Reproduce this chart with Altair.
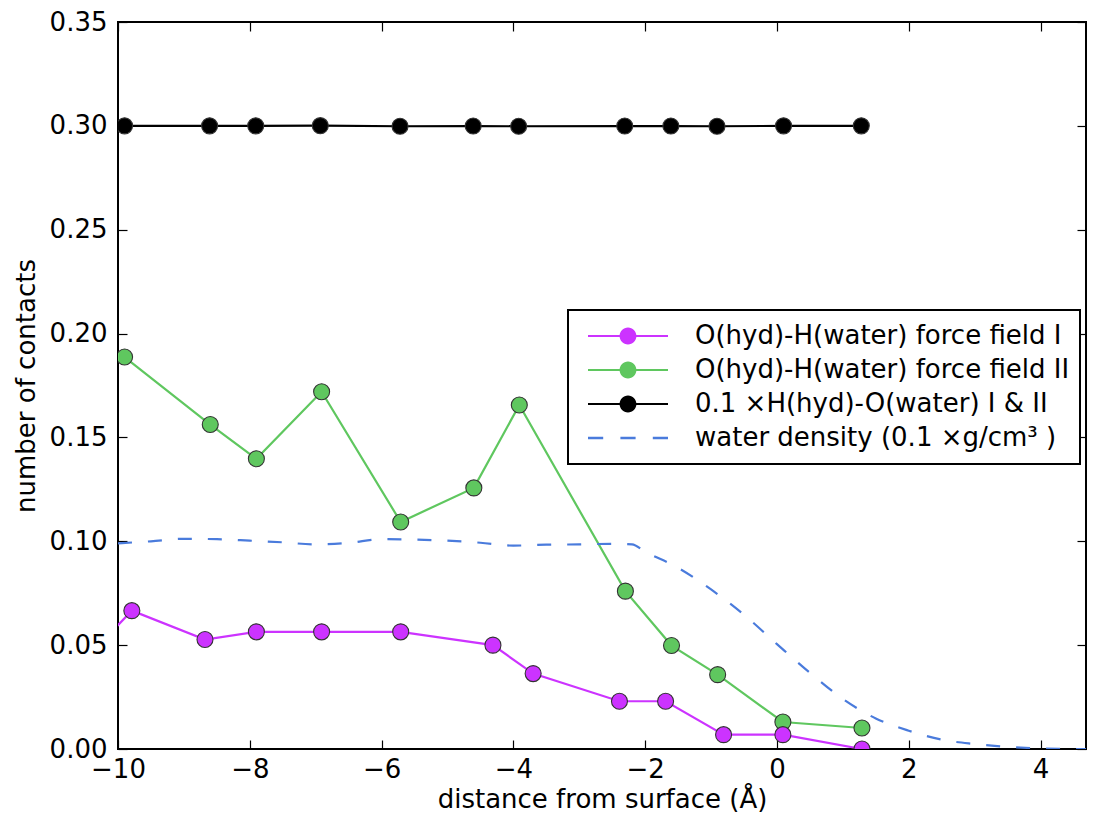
import altair as alt
import pandas as pd

FONT = "DejaVu Sans"

series = [
    "O(hyd)-H(water) force field I",
    "O(hyd)-H(water) force field II",
    "0.1 ×H(hyd)-O(water) I & II",
    "water density (0.1 ×g/cm³ )",
]
colors = ["#cc33ff", "#5fc75f", "#000000", "#4a7bdc"]

# force field I (first point lies just left of the visible range)
ff1_x = [-10.5, -9.79, -8.68, -7.90, -6.91, -5.71, -4.31, -3.70, -2.39, -1.69, -0.81, 0.09, 1.29]
ff1_y = [0.043, 0.0666, 0.0527, 0.0564, 0.0564, 0.0564, 0.0500, 0.0363, 0.0230, 0.0230, 0.0069, 0.0069, 0.0]

# force field II
ff2_x = [-9.90, -8.60, -7.90, -6.91, -5.71, -4.60, -3.91, -2.30, -1.60, -0.90, 0.09, 1.29]
ff2_y = [0.1887, 0.1562, 0.1397, 0.1720, 0.1093, 0.1257, 0.1656, 0.0760, 0.0498, 0.0358, 0.0130, 0.0101]

# 0.1 x H(hyd)-O(water)
hb_x = [-9.90, -8.61, -7.91, -6.93, -5.72, -4.61, -3.92, -2.31, -1.61, -0.91, 0.10, 1.28]
hb_y = [0.300, 0.3000, 0.3000, 0.3001, 0.2998, 0.2999, 0.2998, 0.2999, 0.2999, 0.2998, 0.3000, 0.3000]

# water density
dens_x = [-10.0, -9.5, -9.0, -8.5, -8.0, -7.5, -7.0, -6.5, -6.0, -5.5, -5.0, -4.5, -4.0,
          -3.5, -3.0, -2.5, -2.2, -2.0, -1.5, -1.0, -0.5, 0.0, 0.5, 1.0, 1.5, 2.0, 2.5,
          3.0, 3.5, 4.0, 4.5, 5.0]
dens_y = [0.0990, 0.1000, 0.1012, 0.1010, 0.1003, 0.0995, 0.0985, 0.0992, 0.1010, 0.1008,
          0.1003, 0.0993, 0.0979, 0.0984, 0.0985, 0.0988, 0.0985, 0.0950, 0.0872, 0.0768,
          0.0646, 0.0505, 0.0367, 0.0241, 0.0147, 0.0088, 0.0045, 0.0024, 0.0010, 0.0003,
          0.0, 0.0]

x_ticks = [-10, -8, -6, -4, -2, 0, 2, 4]
y_ticks = [0.0, 0.05, 0.10, 0.15, 0.20, 0.25, 0.30, 0.35]


def frame(name, xs, ys):
    return pd.DataFrame({"series": name, "x": xs, "y": ys})


contacts = pd.concat(
    [frame(series[2], hb_x, hb_y), frame(series[1], ff2_x, ff2_y), frame(series[0], ff1_x, ff1_y)],
    ignore_index=True,
)
density = frame(series[3], dens_x, dens_y)

# legend symbols: a line with a marker, or a dashed line (unit box -1..1)
R = 0.21
H = 0.0275
circ_path = (f"M-1,-{H}H1V{H}H-1Z M{R},0A{R},{R},0,1,1,-{R},0A{R},{R},0,1,1,{R},0Z")
dash_path = ("M-1,-0.03H-0.62V0.03H-1Z M-0.19,-0.03H0.19V0.03H-0.19Z M0.62,-0.03H1V0.03H0.62Z")

x_scale = alt.Scale(domain=[-10, 4.69], nice=False, zero=False)
y_scale = alt.Scale(domain=[0, 0.35], nice=False, zero=False)
color_scale = alt.Scale(domain=series, range=colors)
shape_scale = alt.Scale(domain=series, range=[circ_path, circ_path, circ_path, dash_path])

TICK = 9
axis_common = dict(
    domain=False, grid=False, ticks=True, tickSize=TICK, tickColor="black", tickWidth=1.2,
    offset=-TICK, labelFont=FONT, labelFontSize=26, labelColor="black",
    titleFont=FONT, titleFontSize=26, titleFontWeight="normal", titleColor="black",
)

x_bottom = alt.Axis(orient="bottom", values=x_ticks, format="d", labelFlush=False,
                    labelPadding=7, titlePadding=4, **axis_common)
y_left = alt.Axis(orient="left", values=y_ticks, format=".2f", labelPadding=11,
                  titlePadding=10, **axis_common)
x_top = alt.Axis(orient="top", values=x_ticks, labels=False, **axis_common)
y_right = alt.Axis(orient="right", values=y_ticks, labels=False, **axis_common)

legend = alt.Legend(
    title=None, orient="none", legendX=450, legendY=288, symbolSize=6400,
    symbolStrokeWidth=0, clipHeight=32, rowPadding=2, padding=10, symbolOffset=10,
    labelOffset=27, labelFont=FONT, labelFontSize=26, labelColor="black", labelLimit=700,
    strokeColor="black", fillColor="white",
)

legend_layer = alt.Chart(contacts).transform_filter("false").mark_point(
    filled=True, opacity=1
).encode(
    x=alt.X("x:Q", scale=x_scale, axis=None),
    y=alt.Y("y:Q", scale=y_scale, axis=None),
    color=alt.Color("series:N", scale=color_scale, legend=legend),
    shape=alt.Shape("series:N", scale=shape_scale, legend=legend),
)

lines = alt.Chart(contacts).mark_line(strokeWidth=2.2, clip=True).encode(
    x=alt.X("x:Q", scale=x_scale, axis=x_bottom, title="distance from surface (Å)"),
    y=alt.Y("y:Q", scale=y_scale, axis=y_left, title="number of contacts"),
    color=alt.Color("series:N", scale=color_scale, legend=legend),
    detail="series:N",
)

dens = alt.Chart(density).mark_line(
    strokeWidth=2.2, strokeDash=[14, 16], interpolate="monotone", clip=True
).encode(
    x=alt.X("x:Q", scale=x_scale, axis=x_top, title=None),
    y=alt.Y("y:Q", scale=y_scale, axis=y_right, title=None),
    color=alt.Color("series:N", scale=color_scale, legend=legend),
)

points = alt.Chart(contacts).mark_point(
    filled=True, size=256, opacity=1, stroke="#333333", strokeWidth=1.1, clip=True
).encode(
    x=alt.X("x:Q", scale=x_scale, axis=None),
    y=alt.Y("y:Q", scale=y_scale, axis=None),
    color=alt.Color("series:N", scale=color_scale, legend=legend),
)

chart = (
    alt.layer(legend_layer, lines, dens, points)
    .resolve_axis(x="independent", y="independent")
    .properties(
        width=968, height=727,
        padding={"left": 110, "top": 14, "right": 2, "bottom": 63},
        autosize=alt.AutoSizeParams(type="none"),
        background="white",
    )
    .configure_view(stroke="black", strokeWidth=2)
    .configure_legend(strokeWidth=2)
)

chart.save("out.html", embed_options={"renderer": "svg", "actions": False})
